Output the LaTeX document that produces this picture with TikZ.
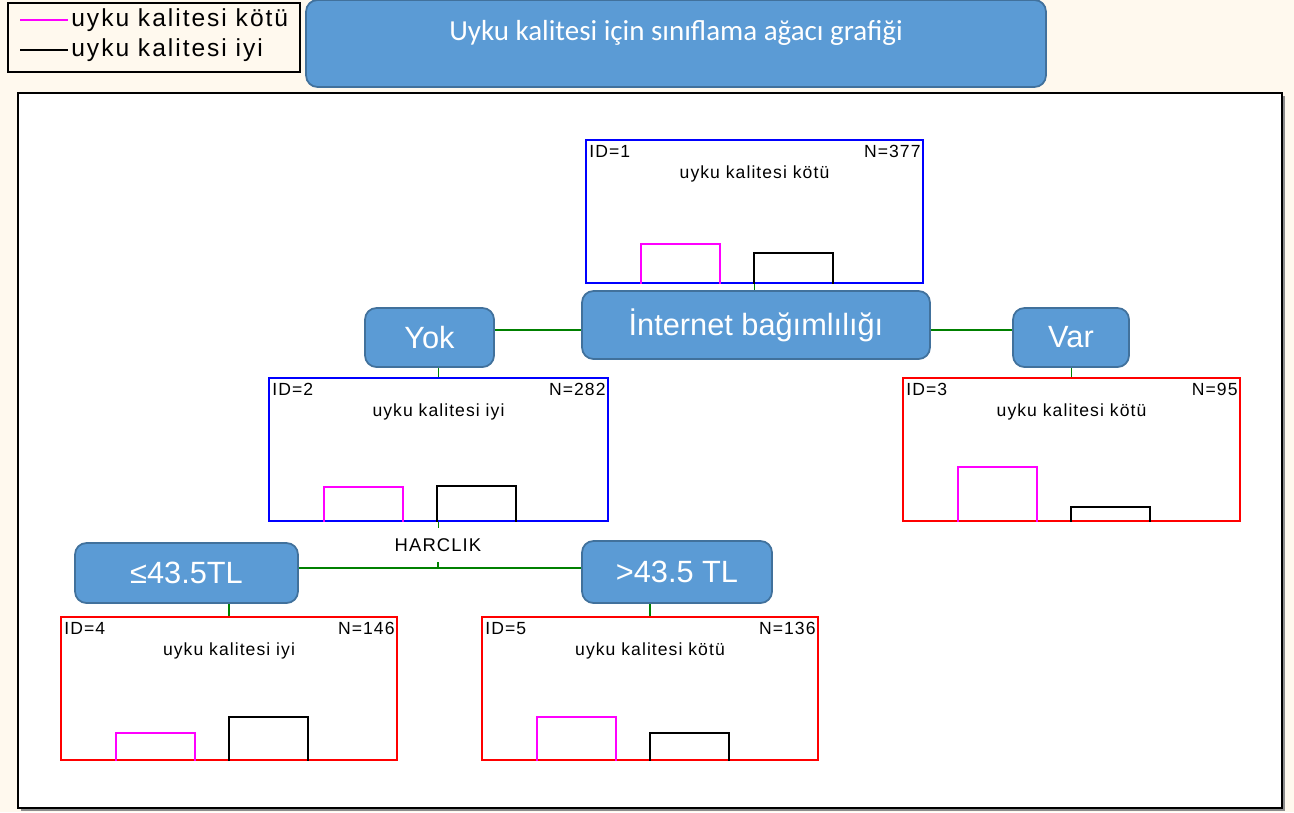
\documentclass[tikz,border=0pt]{standalone}
\usepackage{fontspec}
\setmainfont{Liberation Sans}
\newfontfamily\titlefont{Carlito}
\usepackage{xcolor}
\usetikzlibrary{positioning}
\definecolor{boxblue}{HTML}{5B9BD5}
\definecolor{boxedge}{HTML}{41719C}
\definecolor{paper}{HTML}{FFF9EE}
\definecolor{treegreen}{HTML}{008000}
\definecolor{kotucol}{HTML}{FF00FF}
\newcommand{\hbars}[3]{%
\draw[kotu] ([shift={(56,0)}]#1.south west) -- ++(0,-#2) -- ++(79,0) -- ++(0,#2);
\draw[iyi] ([shift={(169,0)}]#1.south west) -- ++(0,-#3) -- ++(79,0) -- ++(0,#3);}

\begin{document}
\begin{tikzpicture}[x=0.02cm, y=-0.02cm,
split node/.style={rounded corners=6.5pt, fill=boxblue, draw=boxedge, line width=1pt, text=white, inner sep=0pt, font={\fontsize{17.5}{21}\selectfont}},
tree node/.style={draw, line width=1.1pt, fill=white, minimum width=6.74cm, minimum height=2.86cm, inner sep=0pt},
small text/.style={inner sep=0pt, font={\fontsize{10}{12}\selectfont\addfontfeature{LetterSpace=6}}},
legend text/.style={anchor=west, inner sep=0pt, font={\fontsize{14}{16}\selectfont\addfontfeature{LetterSpace=8}}},
edge/.style={treegreen, line width=1.1pt},
kotu/.style={kotucol, line width=1.1pt},
iyi/.style={black, line width=1.1pt}]
\fill[paper] (0,0) rectangle (1294,812);
\useasboundingbox (0,0) rectangle (1294,812);
\fill[black!45] (21,96) rectangle (1285,811);
\draw[line width=1.4pt, fill=white] (18,93) rectangle (1282,808);

\node[draw, line width=1.2pt, fill=paper, minimum width=5.84cm, minimum height=1.38cm, inner sep=0pt] (leg) at (154,37.5) {};
\draw[kotu] (20,20) -- (68,20);
\draw[iyi] (20,50) -- (68,50);
\node[legend text] (lk) at (71,20) {uyku kalitesi kötü};
\node[legend text] (li) at (71,50) {uyku kalitesi iyi};

\node[split node, minimum width=14.8cm, minimum height=1.74cm] (tb) at (676,43.5) {};
\node[text=white, inner sep=0pt, font={\titlefont\fontsize{16.5}{19}\selectfont}] (tt) at (676,33) {Uyku kalitesi için sınıflama ağacı grafiği};

\node[tree node, draw=blue] (n1) at (754.5,211.5) {};
\node[tree node, draw=blue, minimum width=6.78cm] (n2) at (438.5,449.5) {};
\node[tree node, draw=red] (n3) at (1071.5,449.5) {};
\node[tree node, draw=red, minimum width=6.72cm] (n4) at (229,688.5) {};
\node[tree node, draw=red, minimum width=6.72cm] (n5) at (650,688.5) {};

\node[split node, minimum width=6.96cm, minimum height=1.36cm] (ib) at (756,325) {İnternet bağımlılığı};
\node[split node, minimum width=2.58cm, minimum height=1.18cm] (yok) at (429.5,337.5) {Yok};
\node[split node, minimum width=2.32cm, minimum height=1.18cm] (var) at (1071,337.5) {Var};
\node[split node, minimum width=4.46cm, minimum height=1.2cm] (le) at (186.5,573) {≤43.5TL};
\node[split node, minimum width=3.8cm, minimum height=1.24cm] (gt) at (677,572) {>43.5 TL};
\node[inner sep=0pt, font={\fontsize{10.5}{12}\selectfont\addfontfeature{LetterSpace=6}}] (hr) at (438,545) {HARCLIK};
\coordinate (sp) at (438,568);

\node[small text, anchor=west] at ([shift={(4,12)}]n1.north west) {ID=1};
\node[small text, anchor=east] at ([shift={(-3,12)}]n1.north east) {N=377};
\node[small text] at ([shift={(0,35)}]n1.north) {uyku kalitesi kötü};
\node[small text, anchor=west] at ([shift={(4,12)}]n2.north west) {ID=2};
\node[small text, anchor=east] at ([shift={(-3,12)}]n2.north east) {N=282};
\node[small text] at ([shift={(0,35)}]n2.north) {uyku kalitesi iyi};
\node[small text, anchor=west] at ([shift={(4,12)}]n3.north west) {ID=3};
\node[small text, anchor=east] at ([shift={(-3,12)}]n3.north east) {N=95};
\node[small text] at ([shift={(0,35)}]n3.north) {uyku kalitesi kötü};
\node[small text, anchor=west] at ([shift={(4,12)}]n4.north west) {ID=4};
\node[small text, anchor=east] at ([shift={(-3,12)}]n4.north east) {N=146};
\node[small text] at ([shift={(0,35)}]n4.north) {uyku kalitesi iyi};
\node[small text, anchor=west] at ([shift={(4,12)}]n5.north west) {ID=5};
\node[small text, anchor=east] at ([shift={(-3,12)}]n5.north east) {N=136};
\node[small text] at ([shift={(0,35)}]n5.north) {uyku kalitesi kötü};

\hbars{n1}{40}{31}
\hbars{n2}{35}{36}
\hbars{n3}{55}{15}
\hbars{n4}{28}{44}
\hbars{n5}{44}{28}

\draw[edge] (n1.south) -- (n1.south |- ib.north);
\draw[edge] ([shift={(0,5)}]ib.west) -- ([shift={(0,5)}]ib.west -| yok.east);
\draw[edge] ([shift={(0,5)}]ib.east) -- ([shift={(0,5)}]ib.east -| var.west);
\draw[edge] (n2.north) -- (n2.north |- yok.south);
\draw[edge] (n3.north) -- (n3.north |- var.south);
\draw[edge] (n2.south) -- ++(0,6);
\draw[edge] (sp) -- ++(0,-6);
\draw[edge] (le.east |- sp) -- (gt.west |- sp);
\draw[edge] (n4.north) -- (n4.north |- le.south);
\draw[edge] (n5.north) -- (n5.north |- gt.south);
\end{tikzpicture}
\end{document}
